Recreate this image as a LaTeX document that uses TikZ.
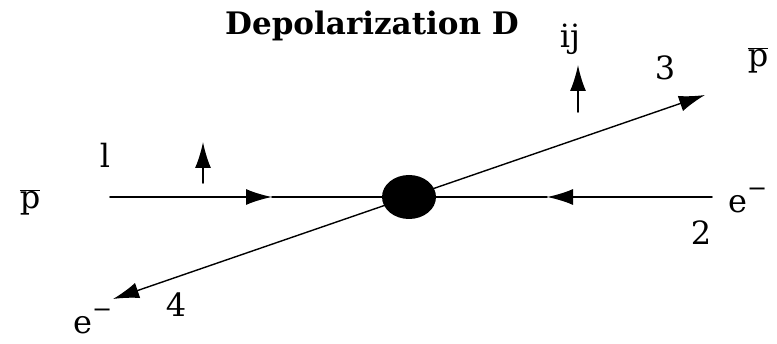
\documentclass[tikz,border=0pt]{standalone}
\usepackage{fontspec}
\setmainfont{DejaVu Serif}
\usepackage{tikz}
\usetikzlibrary{shapes.geometric, arrows.meta}
\usepackage{tkz-euclide}

\begin{document}
\begin{tikzpicture}[x=1pt, y=-1pt, >={Latex[length=26pt,width=16pt]},
    lbl/.style={font=\fontsize{32}{38}\selectfont, inner sep=0pt, anchor=base}]
            \useasboundingbox (0,0) rectangle (777,344);
            \tkzDefPoints{110/197/L, 712/197/R, 272/197/A, 547/197/B, 409/197/C, 705/95/P, 113/299/Q}
            \tkzDefPoints{203/183/U_1, 203/142/V_1, 578/112/U_2, 578/65/V_2}
            \tkzDrawSegments[black, line width=1.8pt, ->](L,A R,B U_1,V_1 U_2,V_2)
            \tkzDrawSegments[black, line width=1.8pt](A,C B,C)
            \tkzDrawSegments[black, line width=1.4pt, ->](C,P C,Q)
            \node[ellipse, fill, minimum width=54pt, minimum height=44pt, inner sep=0pt] (blob) at (C) {};
            \node[lbl, font=\fontsize{31}{36}\selectfont\bfseries] (title) at (372,35) {Depolarization D};
            \node[lbl] (ij) at (570,48) {ij};
            \node[lbl] (l) at (105,168) {l};
            \node[lbl] (n3) at (665,80) {3};
            \node[lbl] (n2) at (701,245) {2};
            \node[lbl] (n4) at (176,317) {4};
            \node[lbl] (pbarR) at (758,67) {$\overline{\mbox{p}}$};
            \node[lbl] (pbarL) at (30,209) {$\overline{\mbox{p}}$};
            \node[lbl, anchor=base west] (eR) at (728,213) {e\raisebox{0.5em}{\fontsize{24}{24}\selectfont −}};
            \node[lbl, anchor=base west] (eL) at (73,334) {e\raisebox{0.5em}{\fontsize{24}{24}\selectfont −}};
        \end{tikzpicture}
\end{document}
